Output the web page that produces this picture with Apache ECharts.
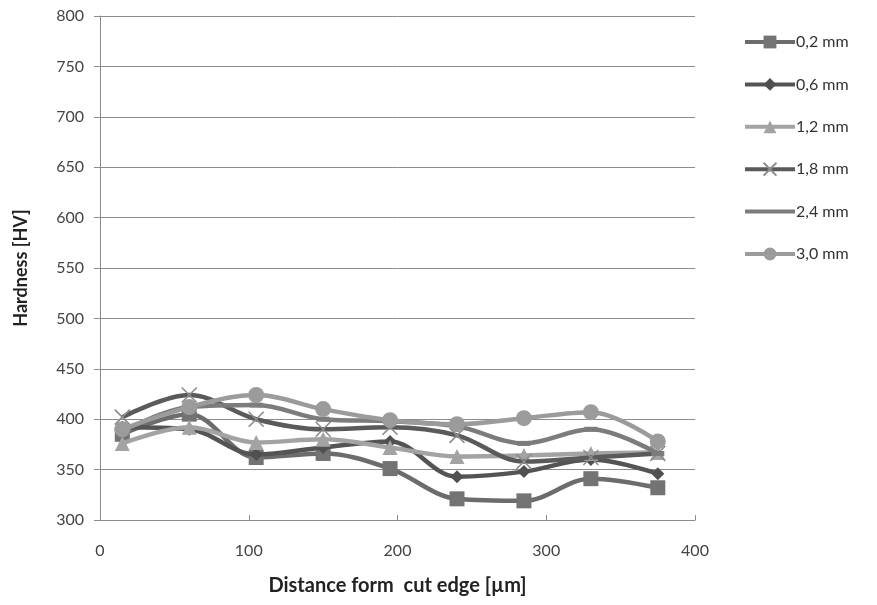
<!DOCTYPE html>
<html><head><meta charset="utf-8">
<script src="https://cdn.jsdelivr.net/npm/echarts@6/dist/echarts.min.js"></script>
<style>html,body{margin:0;padding:0;background:#fff}#c{width:877px;height:605px}</style>
</head><body><div id="c"></div>
<script>
const distances = [15, 60, 105, 150, 195, 240, 285, 330, 375];
const seriesNames = ['0,2 mm', '0,6 mm', '1,2 mm', '1,8 mm', '2,4 mm', '3,0 mm'];
const s02 = [385, 405, 362, 366, 351, 321, 319, 341, 332];
const s06 = [392, 390, 365, 372, 378, 343, 348, 360, 346];
const s12 = [376, 392, 377, 380, 372, 363, 364, 366, 367];
const s18 = [402, 424, 400, 390, 392, 384, 358, 362, 366];
const s24 = [388, 412, 414, 400, 398, 393, 376, 390, 366];
const s30 = [390, 412, 424, 410, 399, 395, 401, 407, 378];
const yTicks = [300, 350, 400, 450, 500, 550, 600, 650, 700, 750, 800];
const xTicks = [0, 100, 200, 300, 400];

const FONT = 'Lato, "Open Sans", sans-serif';
const values = [s02, s06, s12, s18, s24, s30];
const lineColors = ['#6c6c6c', '#545454', '#a3a3a3', '#5a5a5a', '#7c7c7c', '#9b9b9b'];
const markColors = ['#737373', '#505050', '#a3a3a3', '#8c8c8c', '#7c7c7c', '#9b9b9b'];
const symbols = ['rect', 'diamond', 'triangle', 'path://M0,0L10,10M10,0L0,10', 'rect', 'circle'];
const sizes = [15, 13, 15, 15, [13, 5], 16];

const series = seriesNames.map((name, i) => {
  const isCross = i === 3;
  return {
    name: name,
    type: 'line',
    smooth: 0.35,
    data: distances.map((d, k) => [d, values[i][k]]),
    symbol: symbols[i],
    symbolSize: sizes[i],
    showAllSymbol: true,
    lineStyle: { color: lineColors[i], width: 4.5 },
    itemStyle: isCross
      ? { color: 'rgba(0,0,0,0)', borderColor: markColors[i], borderWidth: 1.6 }
      : { color: markColors[i], borderWidth: 0 },
    emphasis: { disabled: true },
    z: 2 + i
  };
});

const legendData = seriesNames.map((n, i) => i === 4 ? { name: n, itemStyle: { opacity: 0 } } : { name: n });

const chart = echarts.init(document.getElementById('c'), null, { renderer: 'canvas' });
chart.setOption({
  animation: false,
  backgroundColor: '#ffffff',
  textStyle: { fontFamily: FONT },
  grid: { left: 100, right: 182, top: 16, bottom: 85, containLabel: false },
  legend: {
    orient: 'vertical',
    left: 738,
    top: 29,
    itemWidth: 50,
    itemHeight: 16,
    itemGap: 26.4,
    data: legendData,
    lineStyle: { width: 4 },
    textStyle: { fontFamily: FONT, fontSize: 16, color: '#333', padding: [0, 0, 0, -4] }
  },
  xAxis: {
    type: 'value',
    min: xTicks[0],
    max: xTicks[xTicks.length - 1],
    interval: 100,
    name: 'Distance form  cut edge [µm]',
    nameLocation: 'middle',
    nameGap: 56,
    nameTextStyle: { fontFamily: FONT, fontSize: 20, fontWeight: 'bold', color: '#222' },
    axisLine: { show: true, lineStyle: { color: '#8c8c8c', width: 1 } },
    axisTick: { show: true, inside: true, length: 5, lineStyle: { color: '#8c8c8c' } },
    axisLabel: { fontFamily: FONT, fontSize: 16, color: '#444', margin: 23 },
    splitLine: { show: false }
  },
  yAxis: {
    type: 'value',
    min: yTicks[0],
    max: yTicks[yTicks.length - 1],
    interval: 50,
    name: 'Hardness [HV]',
    nameLocation: 'middle',
    nameGap: 70,
    nameTextStyle: { fontFamily: FONT, fontSize: 18, fontWeight: 'bold', color: '#222' },
    axisLine: { show: true, lineStyle: { color: '#8c8c8c', width: 1 } },
    axisTick: { show: true, inside: false, length: 6, lineStyle: { color: '#8c8c8c' } },
    axisLabel: { fontFamily: FONT, fontSize: 16, color: '#444', margin: 16 },
    splitLine: { show: true, lineStyle: { color: '#8c8c8c', width: 1 } }
  },
  series: series
});
</script>
</body></html>
